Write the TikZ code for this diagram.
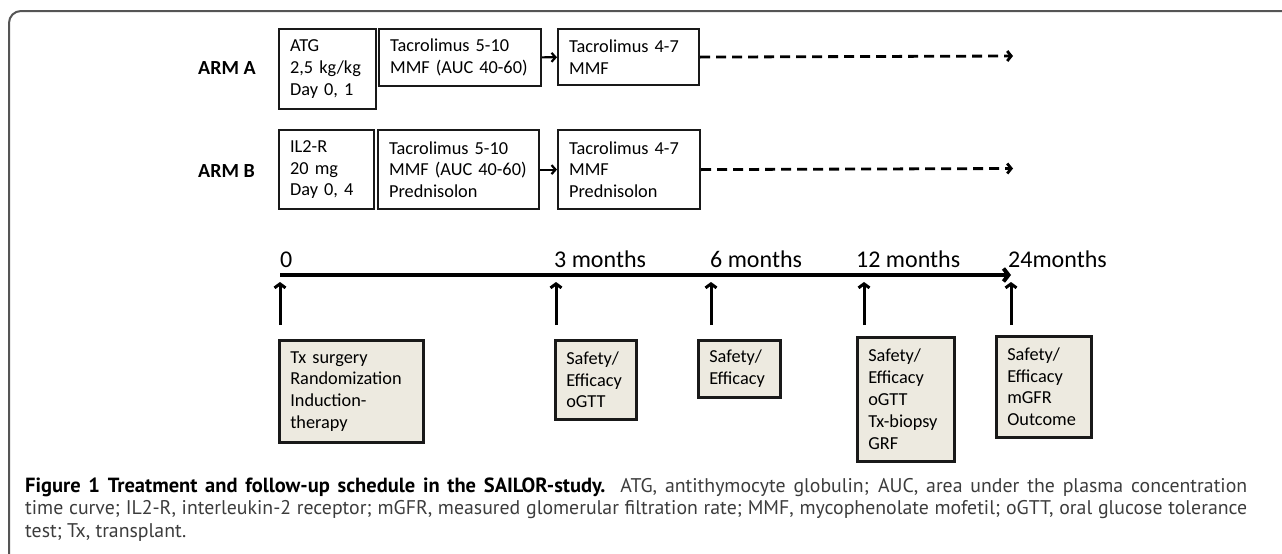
\documentclass[tikz,border=0pt]{standalone}
\usepackage{fontspec}
\setmainfont{Carlito}
\newfontfamily\capfont{PT Sans}
\usetikzlibrary{arrows.meta}
\definecolor{boxfill}{RGB}{237,234,224}
\definecolor{framegray}{RGB}{85,85,85}
\definecolor{captext}{RGB}{60,60,60}
\tikzset{
  tbox/.style={draw=black!90, line width=2.2pt, text width=#1, align=left,
    inner xsep=11pt, inner ysep=0pt, anchor=north west,
    font=\fontsize{18.3}{21.8}\selectfont},
  fbox/.style={tbox=#1, fill=boxfill, line width=2.6pt},
  armlabel/.style={font=\fontsize{20}{24}\bfseries\selectfont, anchor=west, inner sep=0pt},
  tlabel/.style={font=\fontsize{24}{28}\selectfont, anchor=base west, inner sep=0pt},
  link/.style={line width=2.2pt, -{Straight Barb[length=4pt,width=9pt]}},
  fut/.style={line width=2.8pt, dash pattern=on 10pt off 6pt, -{Straight Barb[length=4pt,width=10pt]}},
  tline/.style={line width=4pt, -{Straight Barb[length=5pt,width=13pt]}},
  uparr/.style={line width=3pt, -{Straight Barb[length=4pt,width=11pt]}},
  capline/.style={anchor=base west, inner sep=0pt, text=captext,
    font=\capfont\fontsize{19.8}{22.5}\selectfont},
}

\begin{document}
\begin{tikzpicture}[x=1pt,y=-1pt]
  \useasboundingbox (0,0) rectangle (1282,554);
  % frame
  \draw[framegray, line width=2pt, rounded corners=12pt] (9,560) -- (9,11) -- (1290,11);

  % treatment arms
  \node[armlabel] (armA) at (198,68) {ARM A};
  \node[armlabel] (armB) at (198,171) {ARM B};

  \node[tbox=75, minimum height=80] (atg) at (278,28) {ATG\\2,5 kg/kg\\Day 0, 1};
  \node[tbox=140, minimum height=57] (tacA) at (378,28) {Tacrolimus 5-10\\MMF (AUC 40-60)};
  \node[tbox=119, minimum height=56] (tacAb) at (557,28) {Tacrolimus 4-7\\MMF};

  \node[tbox=73, minimum height=79] (il2) at (278,129) {IL2-R\\20 mg\\Day 0, 4};
  \node[tbox=139, minimum height=79] (tacB) at (377,129) {Tacrolimus 5-10\\MMF (AUC 40-60)\\Prednisolon};
  \node[tbox=120, minimum height=79] (tacBb) at (557,129) {Tacrolimus 4-7\\MMF\\Prednisolon};

  \coordinate (endA) at (1013,56);
  \coordinate (endB) at (1013,168.5);
  \draw[link] (tacA) -- (tacAb);
  \draw[link] (tacB) -- (tacBb);
  \draw[fut] (tacAb.east) -- (endA);
  \draw[fut] (tacBb.east) -- (endB);

  % time line
  \coordinate (k0) at (280,275);
  \coordinate (k3) at (556,275);
  \coordinate (k6) at (711,275);
  \coordinate (k12) at (864,275);
  \coordinate (k24) at (1011,275);
  \coordinate (tend) at (1011,275);
  \draw[tline] (k0) -- (tend);

  \node[tlabel] (l0) at (280,267) {0};
  \node[tlabel] (l3) at (554,267) {3 months};
  \node[tlabel] (l6) at (710,267) {6 months};
  \node[tlabel] (l12) at (856,267) {12 months};
  \node[tlabel] (l24) at (1008,267) {24months};

  \foreach \k in {k0,k3,k6,k12,k24}
    \draw[uparr] ([yshift=-50pt]\k) -- ([yshift=-7pt]\k);

  % visits
  \node[fbox=122, minimum height=102] (tx) at (278,339) {Tx surgery\\Randomization\\Induction-\\therapy};
  \node[fbox=59, minimum height=79] (v3) at (554,339) {Safety/\\Efficacy\\oGTT};
  \node[fbox=60, minimum height=57] (v6) at (697,339) {Safety/\\Efficacy};
  \node[fbox=75, minimum height=124] (v12) at (856,336) {Safety/\\Efficacy\\oGTT\\Tx-biopsy\\GRF};
  \node[fbox=73, minimum height=101] (v24) at (995,335) {Safety/\\Efficacy\\mGFR\\Outcome};

  % caption (justified lines)
  \node[capline] (cap1) at (25,492) {\makebox[1222pt][s]{\textcolor{black}{\fontsize{20.5}{22.5}\bfseries\selectfont Figure 1 Treatment and follow-up schedule in the SAILOR-study.} ATG, antithymocyte globulin; AUC, area under the plasma concentration}};
  \node[capline] (cap2) at (25,514.5) {\makebox[1222pt][s]{time curve; IL2-R, interleukin-2 receptor; mGFR, measured glomerular filtration rate; MMF, mycophenolate mofetil; oGTT, oral glucose tolerance}};
  \node[capline] (cap3) at (25,537) {test; Tx, transplant.};
\end{tikzpicture}
\end{document}
